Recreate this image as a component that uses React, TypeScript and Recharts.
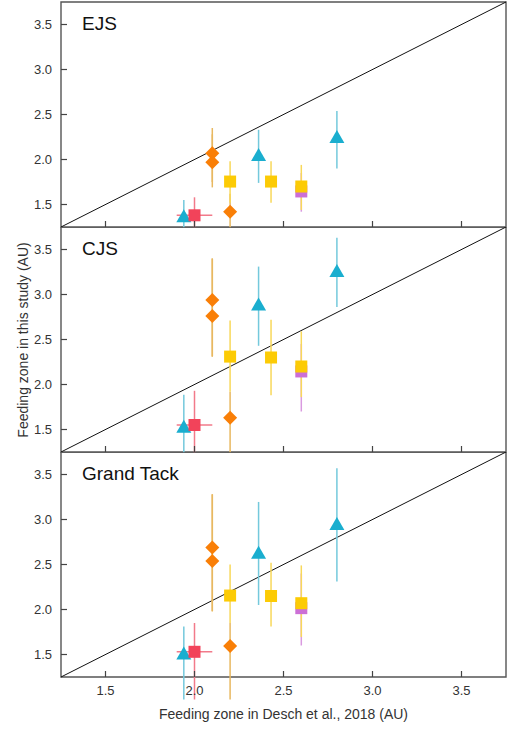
import React from 'react';
import { ScatterChart, Scatter, XAxis, YAxis, ErrorBar, ReferenceLine, ReferenceArea } from 'recharts';

const FONT = '"Liberation Sans", Arial, sans-serif';

const axisDomain = [1.25, 3.75];
const identityLine = [1.25, 3.75];
const xTicks = [1.5, 2.0, 2.5, 3.0, 3.5];
const yTicks = [1.5, 2.0, 2.5, 3.0, 3.5];
const panelNames = ['EJS', 'CJS', 'Grand Tack'];

// feeding zone from Desch et al. 2018 (x)
const triangleX = [1.94, 2.36, 2.8];
const redX = [2.0];
const redXLow = [1.9];
const redXHigh = [2.1];
const diamondX = [2.1, 2.1, 2.2];
const squareX = [2.2, 2.43, 2.6];
const magentaX = [2.6];

// EJS
const ejsTriangleY = [1.37, 2.05, 2.25];
const ejsTriangleLow = [1.0, 1.74, 1.9];
const ejsTriangleHigh = [1.55, 2.33, 2.54];
const ejsRedY = [1.38];
const ejsRedLow = [1.0];
const ejsRedHigh = [1.58];
const ejsDiamondY = [2.07, 1.97, 1.42];
const ejsDiamondLow = [1.75, 1.69, 1.0];
const ejsDiamondHigh = [2.35, 2.28, 1.62];
const ejsSquareY = [1.755, 1.755, 1.7];
const ejsSquareLow = [1.52, 1.52, 1.44];
const ejsSquareHigh = [1.98, 1.98, 1.94];
const ejsMagentaY = [1.645];
const ejsMagentaLow = [1.42];
const ejsMagentaHigh = [1.85];

// CJS
const cjsTriangleY = [1.53, 2.89, 3.26];
const cjsTriangleLow = [1.0, 2.43, 2.86];
const cjsTriangleHigh = [1.885, 3.31, 3.63];
const cjsRedY = [1.55];
const cjsRedLow = [1.0];
const cjsRedHigh = [1.93];
const cjsDiamondY = [2.94, 2.76, 1.63];
const cjsDiamondLow = [2.31, 2.31, 1.0];
const cjsDiamondHigh = [3.4, 3.4, 1.92];
const cjsSquareY = [2.31, 2.3, 2.2];
const cjsSquareLow = [1.92, 1.88, 1.86];
const cjsSquareHigh = [2.71, 2.72, 2.59];
const cjsMagentaY = [2.145];
const cjsMagentaLow = [1.7];
const cjsMagentaHigh = [2.45];

// Grand Tack
const gtTriangleY = [1.51, 2.63, 2.95];
const gtTriangleLow = [1.0, 2.05, 2.31];
const gtTriangleHigh = [1.81, 3.195, 3.57];
const gtRedY = [1.53];
const gtRedLow = [1.0];
const gtRedHigh = [1.85];
const gtDiamondY = [2.69, 2.54, 1.595];
const gtDiamondLow = [1.98, 1.98, 1.0];
const gtDiamondHigh = [3.28, 3.28, 1.85];
const gtSquareY = [2.155, 2.15, 2.07];
const gtSquareLow = [1.85, 1.81, 1.695];
const gtSquareHigh = [2.5, 2.52, 2.49];
const gtMagentaY = [2.015];
const gtMagentaLow = [1.6];
const gtMagentaHigh = [2.4];

const points = (xs: number[], ys: number[], lo: number[], hi: number[], xlo?: number[], xhi?: number[]) =>
  xs.map((x, i) => ({
    x,
    y: ys[i],
    yErr: [ys[i] - lo[i], hi[i] - ys[i]],
    xErr: xlo && xhi ? [x - xlo[i], xhi[i] - x] : [0, 0],
  }));

const panels = [
  {
    name: panelNames[0],
    triangles: points(triangleX, ejsTriangleY, ejsTriangleLow, ejsTriangleHigh),
    red: points(redX, ejsRedY, ejsRedLow, ejsRedHigh, redXLow, redXHigh),
    diamonds: points(diamondX, ejsDiamondY, ejsDiamondLow, ejsDiamondHigh),
    squares: points(squareX, ejsSquareY, ejsSquareLow, ejsSquareHigh),
    magenta: points(magentaX, ejsMagentaY, ejsMagentaLow, ejsMagentaHigh),
  },
  {
    name: panelNames[1],
    triangles: points(triangleX, cjsTriangleY, cjsTriangleLow, cjsTriangleHigh),
    red: points(redX, cjsRedY, cjsRedLow, cjsRedHigh, redXLow, redXHigh),
    diamonds: points(diamondX, cjsDiamondY, cjsDiamondLow, cjsDiamondHigh),
    squares: points(squareX, cjsSquareY, cjsSquareLow, cjsSquareHigh),
    magenta: points(magentaX, cjsMagentaY, cjsMagentaLow, cjsMagentaHigh),
  },
  {
    name: panelNames[2],
    triangles: points(triangleX, gtTriangleY, gtTriangleLow, gtTriangleHigh),
    red: points(redX, gtRedY, gtRedLow, gtRedHigh, redXLow, redXHigh),
    diamonds: points(diamondX, gtDiamondY, gtDiamondLow, gtDiamondHigh),
    squares: points(squareX, gtSquareY, gtSquareLow, gtSquareHigh),
    magenta: points(magentaX, gtMagentaY, gtMagentaLow, gtMagentaHigh),
  },
];

const Marker = ({ cx, cy, fill, kind }: any) => {
  if (cx == null || cy == null) return null;
  if (kind === 'triangle') {
    return <polygon points={`${cx},${cy - 7} ${cx - 7.5},${cy + 6} ${cx + 7.5},${cy + 6}`} fill={fill} />;
  }
  if (kind === 'diamond') {
    return <polygon points={`${cx},${cy - 7} ${cx + 7},${cy} ${cx},${cy + 7} ${cx - 7},${cy}`} fill={fill} />;
  }
  return <rect x={cx - 6} y={cy - 6} width={12} height={12} fill={fill} />;
};

const XTick = ({ x, y, payload, showLabel, axisY }: any) => (
  <g>
    <line x1={x} x2={x} y1={axisY} y2={axisY - 6} stroke="#444" strokeWidth={1.2} />
    {showLabel && (
      <text x={x} y={y + 18} textAnchor="middle" fontSize={13} fill="#333" fontFamily={FONT}>
        {payload.value.toFixed(1)}
      </text>
    )}
  </g>
);

const YTick = ({ x, y, payload }: any) => (
  <g>
    <line x1={61} x2={67} y1={y} y2={y} stroke="#444" strokeWidth={1.2} />
    <text x={x - 9} y={y + 4.5} textAnchor="end" fontSize={13} fill="#333" fontFamily={FONT}>
      {payload.value.toFixed(1)}
    </text>
  </g>
);

const Panel = ({ panel, top, height, margin, bottom }: any) => {
  const axisH = bottom ? 53 : 1;
  const plotBottom = height - margin.bottom - axisH;
  return (
    <div style={{ position: 'absolute', left: 0, top, width: 511, height }}>
      <ScatterChart width={511} height={height} margin={margin}>
        <XAxis
          type="number"
          dataKey="x"
          domain={axisDomain}
          ticks={xTicks}
          interval={0}
          allowDataOverflow
          height={axisH}
          axisLine={false}
          tickLine={false}
          tickSize={0}
          tickMargin={0}
          tick={<XTick showLabel={bottom} axisY={plotBottom} />}
          label={
            bottom
              ? {
                  value: 'Feeding zone in Desch et al., 2018 (AU)',
                  position: 'insideBottom',
                  offset: 11,
                  fontSize: 14,
                  fill: '#333',
                  fontFamily: FONT,
                }
              : undefined
          }
        />
        <YAxis
          type="number"
          dataKey="y"
          domain={axisDomain}
          ticks={yTicks}
          interval={0}
          allowDataOverflow
          width={61}
          axisLine={false}
          tickLine={false}
          tickSize={0}
          tickMargin={0}
          tick={<YTick />}
        />
        <ReferenceArea
          x1={axisDomain[0]}
          x2={axisDomain[1]}
          y1={axisDomain[0]}
          y2={axisDomain[1]}
          fill="none"
          fillOpacity={0}
          stroke="#555"
          strokeWidth={1.4}
          ifOverflow="visible"
        />
        <ReferenceLine
          segment={[
            { x: identityLine[0], y: identityLine[0] },
            { x: identityLine[1], y: identityLine[1] },
          ]}
          stroke="#111"
          strokeWidth={1}
        />
        <Scatter data={panel.triangles} fill="#1aaecf" isAnimationActive={false} shape={(p: any) => <Marker {...p} kind="triangle" />}>
          <ErrorBar dataKey="yErr" direction="y" width={0} stroke="#74c9dc" strokeWidth={1.5} />
        </Scatter>
        <Scatter data={panel.red} fill="#f2435a" isAnimationActive={false} shape={(p: any) => <Marker {...p} kind="square" />}>
          <ErrorBar dataKey="yErr" direction="y" width={0} stroke="#f27a8a" strokeWidth={1.5} />
          <ErrorBar dataKey="xErr" direction="x" width={0} stroke="#f27a8a" strokeWidth={1.5} />
        </Scatter>
        <Scatter data={panel.diamonds} fill="#f97f07" isAnimationActive={false} shape={(p: any) => <Marker {...p} kind="diamond" />}>
          <ErrorBar dataKey="yErr" direction="y" width={0} stroke="#e8b860" strokeWidth={1.5} />
        </Scatter>
        <Scatter data={panel.magenta} fill="#cc6fd6" isAnimationActive={false} shape={(p: any) => <Marker {...p} kind="square" />}>
          <ErrorBar dataKey="yErr" direction="y" width={0} stroke="#d99ae0" strokeWidth={1.5} />
        </Scatter>
        <Scatter data={panel.squares} fill="#fccb05" isAnimationActive={false} shape={(p: any) => <Marker {...p} kind="square" />}>
          <ErrorBar dataKey="yErr" direction="y" width={0} stroke="#f8d85a" strokeWidth={1.5} />
        </Scatter>
      </ScatterChart>
      <div
        style={{
          position: 'absolute',
          left: 82,
          top: margin.top + 12,
          fontFamily: FONT,
          fontSize: 19,
          lineHeight: '19px',
          color: '#111',
          whiteSpace: 'nowrap',
        }}
      >
        {panel.name}
      </div>
    </div>
  );
};

export default function App() {
  return (
    <div style={{ position: 'absolute', left: 0, top: 0, width: 511, height: 730, background: '#fff' }}>
      <Panel panel={panels[0]} top={0} height={228} margin={{ top: 2, right: 5, bottom: 0, left: 0 }} bottom={false} />
      <Panel panel={panels[1]} top={227} height={226} margin={{ top: 0, right: 5, bottom: 0, left: 0 }} bottom={false} />
      <Panel panel={panels[2]} top={452} height={278} margin={{ top: 0, right: 5, bottom: 0, left: 0 }} bottom={true} />
      <div
        style={{
          position: 'absolute',
          left: 23,
          top: 340,
          transform: 'translate(-50%, -50%) rotate(-90deg)',
          fontFamily: FONT,
          fontSize: 14,
          color: '#333',
          whiteSpace: 'nowrap',
        }}
      >
        Feeding zone in this study (AU)
      </div>
    </div>
  );
}
